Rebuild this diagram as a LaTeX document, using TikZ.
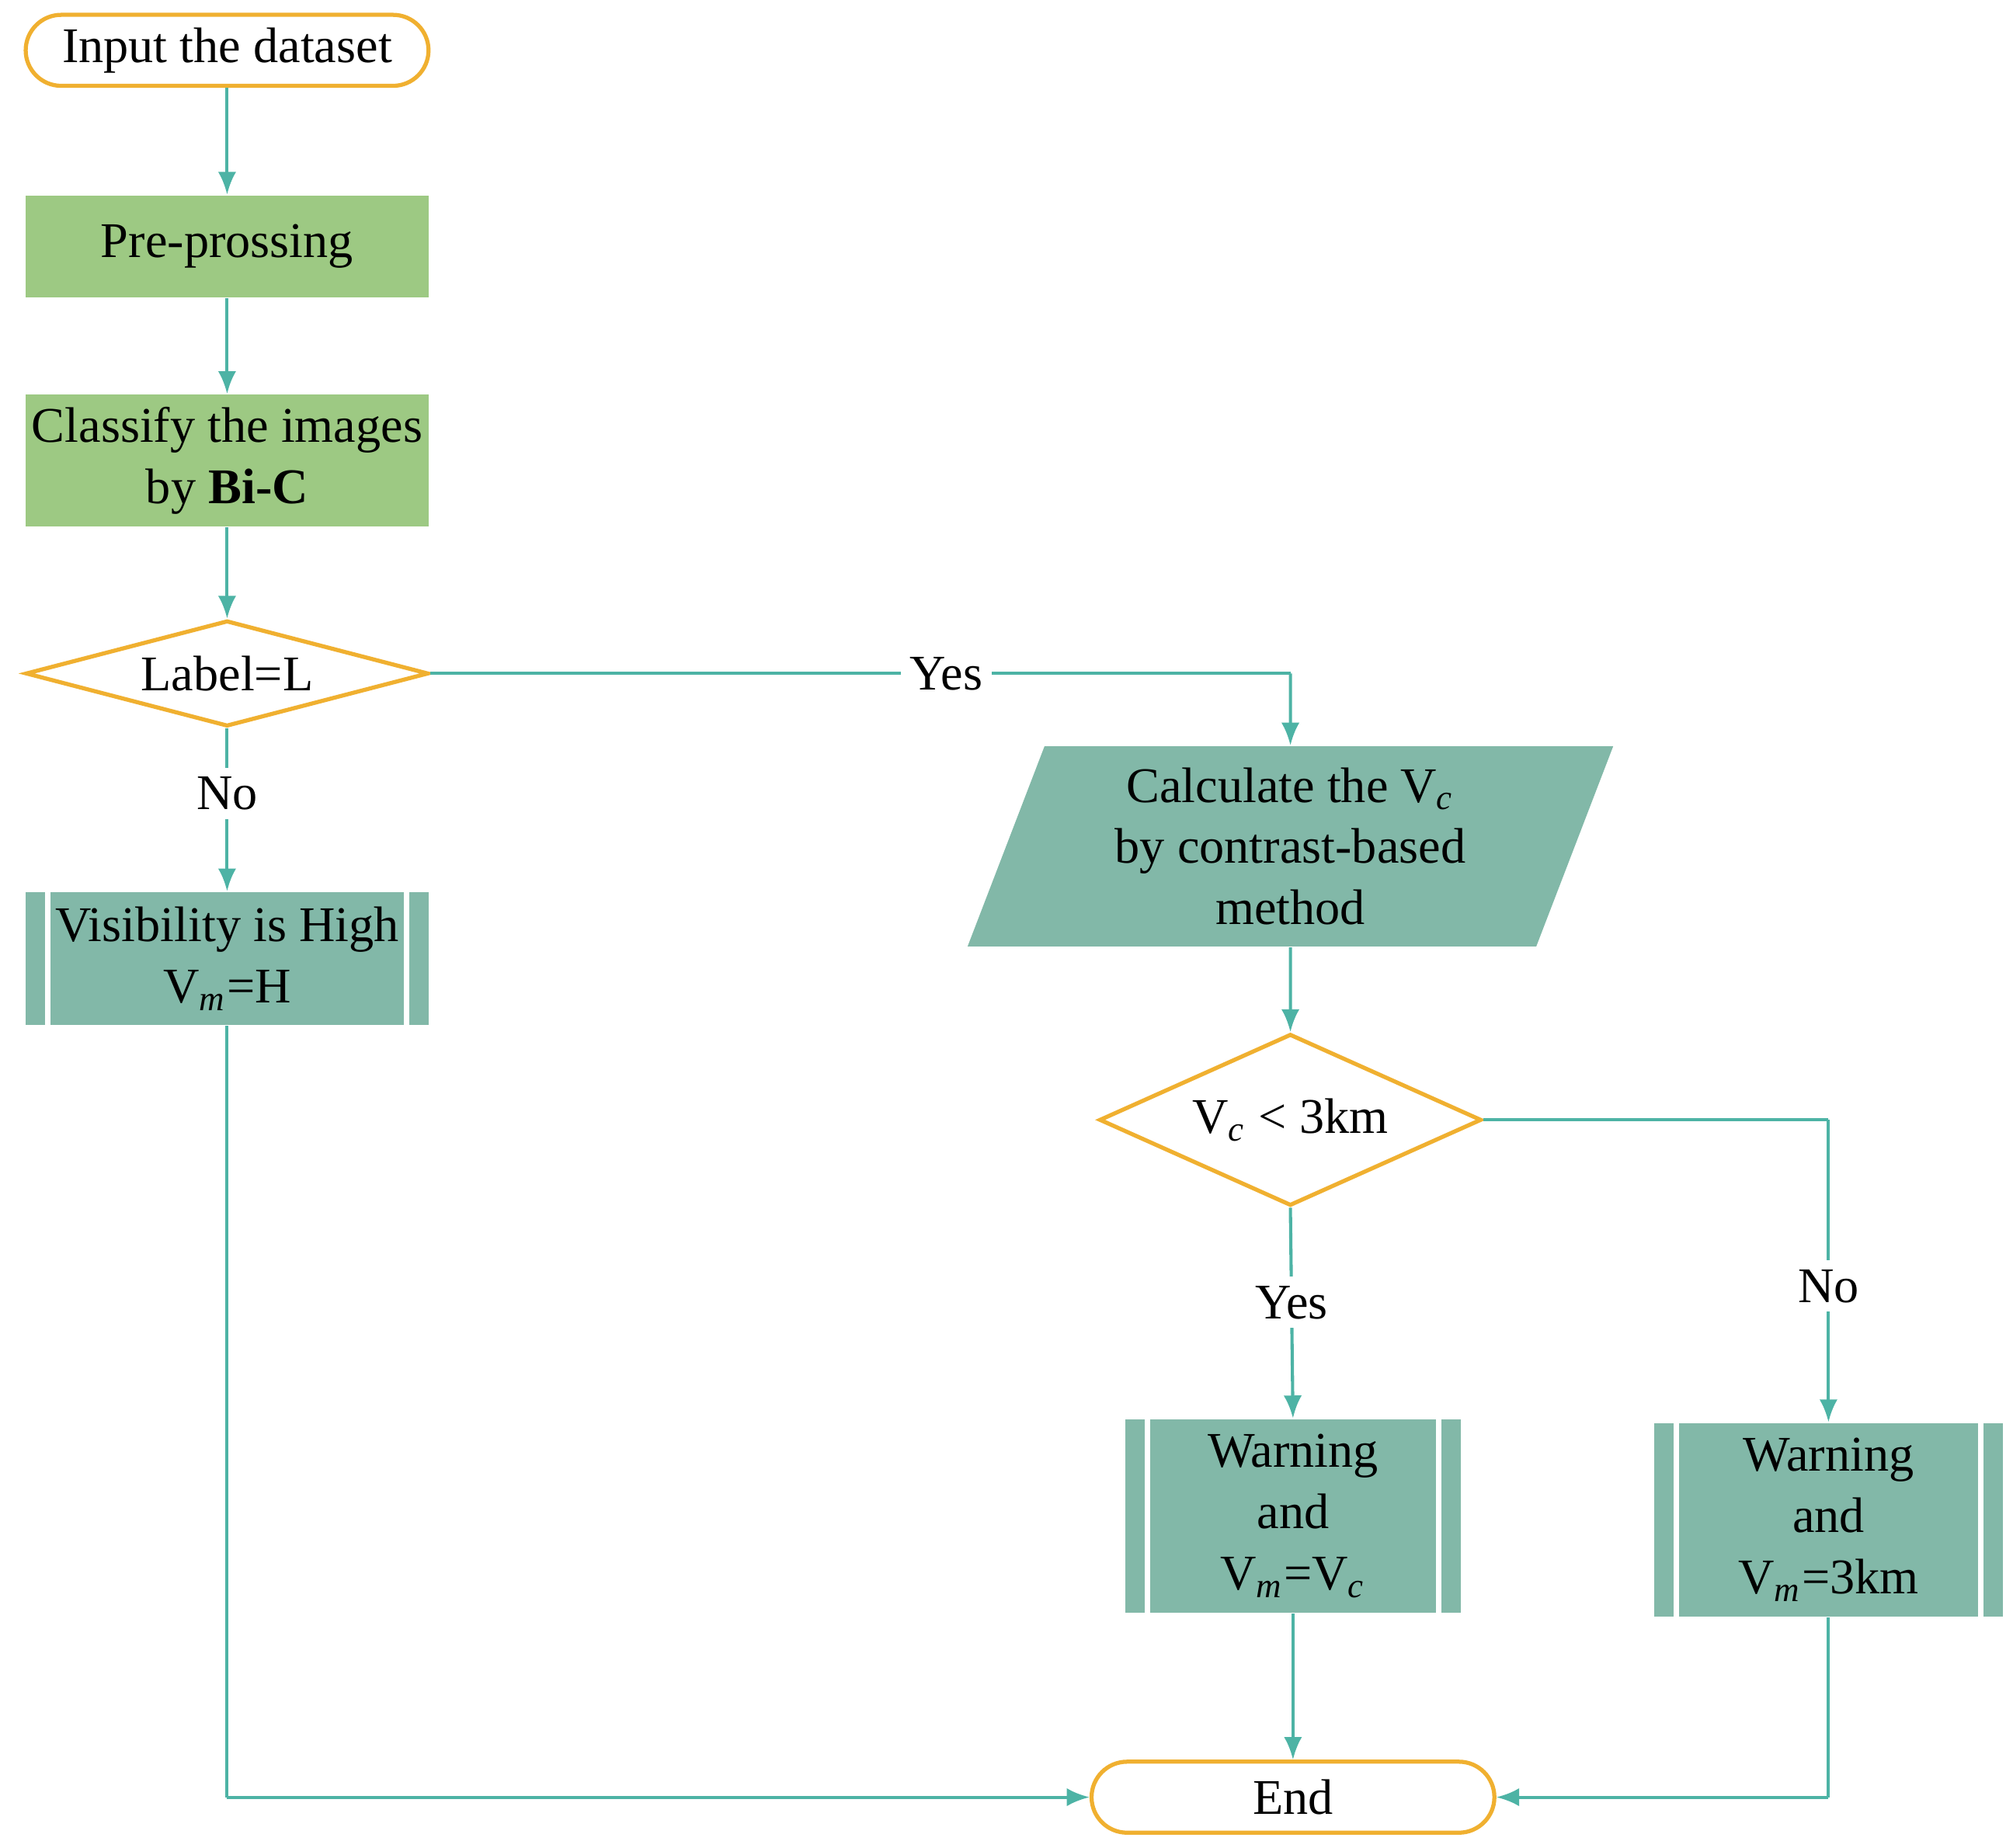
\documentclass[tikz,border=0pt]{standalone}
\usepackage{fontspec}
\setmainfont{Liberation Serif}
\usetikzlibrary{shapes.geometric,arrows.meta}
\definecolor{lgreen}{HTML}{9DC983}
\definecolor{lteal}{HTML}{82B8A8}
\definecolor{lorange}{HTML}{F0B030}
\definecolor{lline}{HTML}{4DB3A5}
\newcommand{\sub}[1]{\textsubscript{\textit{#1}}}
\tikzset{
  txt/.style={font=\fontsize{11}{13.5}\selectfont, align=center, inner sep=0pt},
  term/.style={txt, draw=lorange, line width=0.9pt, rounded corners=0.275cm, minimum width=3.12cm, minimum height=0.55cm},
  proc/.style={txt, fill=lgreen, minimum width=3.12cm},
  pre/.style={txt, fill=lteal, path picture={
      \draw[white, line width=1.2pt] ([xshift=0.17cm]path picture bounding box.north west) -- ([xshift=0.17cm]path picture bounding box.south west);
      \draw[white, line width=1.2pt] ([xshift=-0.17cm]path picture bounding box.north east) -- ([xshift=-0.17cm]path picture bounding box.south east);}},
  dec/.style={txt, diamond, draw=lorange, line width=0.9pt, fill=white},
  io/.style={txt, trapezium, trapezium left angle=64, trapezium right angle=116, trapezium stretches body, fill=lteal, minimum width=5cm, minimum height=1.55cm},
  lbl/.style={txt, fill=white, inner sep=2pt},
  flow/.style={draw=lline, line width=0.7pt, -{Latex[length=5pt,width=4pt]}},
  plain/.style={draw=lline, line width=0.7pt}
}
\begin{document}
\begin{tikzpicture}[x=0.01cm, y=-0.01cm]
  \useasboundingbox (0,0) rectangle (1560,1432);
  % nodes
  \node[term] (start) at (176,39) {Input the dataset};
  \node[proc, minimum height=0.79cm] (prep) at (176,191) {Pre-prossing};
  \node[proc, minimum height=1.02cm] (cls) at (176,357) {Classify the images\\by \textbf{Bi-C}};
  \node[dec, aspect=3.8, minimum width=3.12cm, minimum height=0.82cm] (lab) at (176,522) {Label=L};
  \node[pre, minimum width=3.12cm, minimum height=1.03cm] (high) at (176,743) {Visibility is High\\V\sub{m}=H};
  \node[io] (calc) at (1000,656) {Calculate the V\sub{c}\\by contrast-based\\method};
  \node[dec, aspect=2.2, minimum width=2.96cm, minimum height=1.33cm] (vc) at (1000,868) {V\sub{c} < 3km};
  \node[pre, minimum width=2.6cm, minimum height=1.5cm] (wa) at (1002,1175) {Warning\\and\\V\sub{m}=V\sub{c}};
  \node[pre, minimum width=2.7cm, minimum height=1.5cm] (wb) at (1417,1178) {Warning\\and\\V\sub{m}=3km};
  \node[term] (end) at (1002,1393) {End};
  \coordinate (c1) at (1000,522);
  \coordinate (c2) at (1417,868);
  \coordinate (c3) at (176,1393);
  \coordinate (c4) at (1417,1393);
  % connectors
  \draw[flow] (start) -- (prep);
  \draw[flow] (prep) -- (cls);
  \draw[flow] (cls) -- (lab);
  \draw[flow] (lab) -- node[lbl, pos=0.4] {No} (high);
  \draw[plain] (lab.east) -- node[lbl, pos=0.6] {Yes} (c1);
  \draw[flow] (c1) -- (calc.north);
  \draw[flow] (calc.south) -- (vc.north);
  \draw[flow] (vc.south) -- node[lbl, pos=0.45] {Yes} (wa.north);
  \draw[plain] (vc.east) -- (c2);
  \draw[flow] (c2) -- node[lbl, pos=0.55] {No} (wb.north);
  \draw[flow] (wa) -- (end);
  \draw[plain] (high) -- (c3);
  \draw[flow] (c3) -- (end.west);
  \draw[plain] (wb) -- (c4);
  \draw[flow] (c4) -- (end.east);
\end{tikzpicture}
\end{document}
